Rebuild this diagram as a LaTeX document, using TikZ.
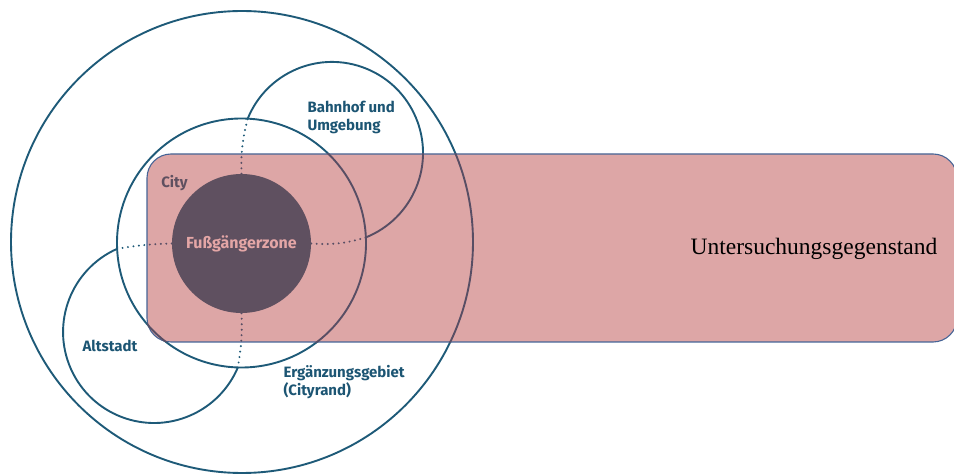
\documentclass[tikz,border=0pt]{standalone}
\usepackage{fontspec}
\setmainfont{Liberation Serif}
\newfontfamily\zonefont{Fira Sans}
\usetikzlibrary{positioning}
\definecolor{ringcol}{RGB}{30,90,120}
\definecolor{ringdark}{RGB}{88,78,100}
\definecolor{areafill}{RGB}{221,166,166}
\definecolor{arealine}{RGB}{70,100,150}
\definecolor{zonefill}{RGB}{95,80,96}
\definecolor{zonetext}{RGB}{228,166,166}
\definecolor{labelcol}{RGB}{28,85,115}

\pgfdeclarelayer{rings}
\pgfdeclarelayer{area}
\pgfdeclarelayer{inner}
\pgfsetlayers{rings,area,inner,main}

% Kreise und gepunktete Grenzen, einmal pro Farbe
\newcommand{\ringlines}[1]{%
  \draw[ring, #1] (outerc) circle[radius=231];
  \draw[ring, #1] (cityc) circle[radius=124.5];
  \draw[ring, #1] (bx1) arc[start angle=157.9, end angle=-68.1, radius=91];
  \draw[ring, #1] (ax1) arc[start angle=113.9, end angle=337.1, radius=91];
  \draw[dots, #1] (fzone.north) to[bend left=8] (bx1);
  \draw[dots, #1] (fzone.east) to[bend right=10] (bx2);
  \draw[dots, #1] (fzone.south) to[bend left=6] (ax2);
  \draw[dots, #1] (fzone.west) to[bend right=4] (ax1);
}

\begin{document}
\begin{tikzpicture}[x=1pt, y=1pt,
    ring/.style={line width=1.9pt},
    dots/.style={line width=2.2pt, line cap=round, dash pattern=on 0pt off 5.5pt},
    zonelabel/.style={font=\zonefont\bfseries\fontsize{15}{18}\selectfont, text=labelcol, align=left}
]
\useasboundingbox (0,0) rectangle (954,474);

% Mittelpunkte und Schnittpunkte
\coordinate (outerc) at (242,232);
\coordinate (cityc) at (241.5,231);
\coordinate (bx1) at (247.7,355.3);
\coordinate (bx2) at (365.9,236.5);
\coordinate (ax1) at (117.2,225.2);
\coordinate (ax2) at (237.8,106.6);

% Fussgaengerzone
\node[circle, fill=zonefill, minimum size=139pt, inner sep=0pt, text=zonetext,
      font=\zonefont\bfseries\fontsize{16}{18}\selectfont] (fzone) at (241.5,230.5) {Fußgängerzone};

\begin{pgfonlayer}{rings}
  \ringlines{ringcol}
\end{pgfonlayer}

% Untersuchungsgegenstand
\begin{pgfonlayer}{area}
  \node[draw=arealine, line width=1.1pt, fill=areafill, rounded corners=24pt,
        minimum width=810pt, minimum height=188pt] (area) at (552,226) {};
\end{pgfonlayer}
\begin{pgfonlayer}{inner}
  \begin{scope}
    \clip[rounded corners=24pt] (area.south west) rectangle (area.north east);
    \ringlines{ringdark}
  \end{scope}
\end{pgfonlayer}

% Beschriftungen
\node[zonelabel, anchor=west] (bahnlabel) at (304,357) {Bahnhof und\\Umgebung};
\node[zonelabel] (altlabel) at (110,128) {Altstadt};
\node[zonelabel, anchor=west] (randlabel) at (280,92) {Ergänzungsgebiet\\(Cityrand)};
\node[zonelabel, text=zonefill] (citylabel) at (174.5,291) {City};
\node[font=\fontsize{23.5}{26}\selectfont] (subject) at (814,225) {Untersuchungsgegenstand};

\end{tikzpicture}
\end{document}
